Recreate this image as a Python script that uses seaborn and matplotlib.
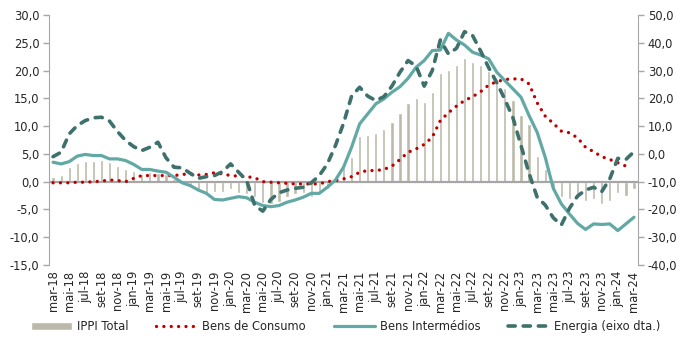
import numpy as np
import pandas as pd
import matplotlib
matplotlib.use("Agg")
import matplotlib.pyplot as plt
from matplotlib.ticker import FuncFormatter, MultipleLocator
import seaborn as sns

# Monthly periods, mar-18 .. mar-24
meses_pt = ["jan", "fev", "mar", "abr", "mai", "jun", "jul", "ago", "set", "out", "nov", "dez"]
periodos = [f"{meses_pt[m % 12]}-{18 + m // 12}" for m in range(2, 2 + 73)]

# Year-on-year change (%), left axis
ippi_total = [
    0.9, 1.2, 2.7, 3.3, 3.7, 3.8, 3.9, 3.6, 2.9, 2.2,
    2.0, 1.4, 1.8, 1.6, 1.4, 0.5, -0.3, -0.8, -1.6, -2.0,
    -1.8, -1.9, -1.4, -2.0, -2.3, -2.8, -3.9, -4.0, -3.7, -2.8,
    -2.3, -2.1, -2.7, -2.2, -1.3, 0.5, 2.8, 4.4, 8.2, 8.4,
    8.8, 9.4, 10.8, 12.4, 14.1, 15.0, 14.4, 16.2, 19.6, 20.1,
    21.0, 22.2, 21.6, 21.0, 20.0, 17.8, 16.8, 14.7, 12.0, 10.3,
    4.7, 2.3, -1.4, -2.8, -3.2, -3.0, -3.5, -3.1, -4.1, -3.4,
    -2.1, -2.5, -1.3,
]
bens_consumo = [
    -0.2, -0.2, -0.2, -0.1, -0.1, 0.0, 0.1, 0.3, 0.2, 0.0,
    0.6, 1.1, 1.1, 1.1, 1.1, 1.1, 1.3, 1.4, 1.2, 1.3,
    1.6, 1.4, 1.1, 1.0, 0.9, 0.7, 0.0, -0.1, -0.2, -0.3,
    -0.4, -0.4, -0.4, -0.4, 0.0, 0.2, 0.5, 0.9, 1.7, 2.0,
    2.0, 2.2, 2.8, 4.0, 5.3, 5.9, 6.7, 8.0, 11.0, 12.4,
    13.6, 14.6, 15.3, 16.2, 17.4, 18.0, 18.4, 18.5, 18.5, 17.6,
    14.2, 11.8, 10.5, 9.1, 8.8, 7.9, 6.2, 5.4, 4.5, 4.0,
    3.4, 2.8, np.nan,
]
bens_intermedios = [
    3.5, 3.2, 3.6, 4.6, 4.9, 4.7, 4.7, 4.1, 4.1, 3.8,
    3.1, 2.2, 2.2, 1.9, 1.7, 0.8, -0.2, -0.7, -1.5, -2.1,
    -3.2, -3.3, -3.0, -2.7, -2.9, -3.7, -4.3, -4.5, -4.3, -3.7,
    -3.3, -2.8, -2.1, -2.1, -1.0, 0.3, 2.6, 6.2, 10.4, 12.2,
    14.0, 14.9, 16.1, 17.1, 18.6, 20.6, 21.8, 23.6, 23.7, 26.7,
    25.5, 24.6, 23.3, 22.8, 22.1, 19.7, 18.2, 16.7, 15.2, 11.9,
    8.9, 4.4, -1.2, -4.0, -5.8, -7.5, -8.6, -7.6, -7.7, -7.6,
    -8.8, -7.6, -6.4,
]
# Energy, right axis
energia = [
    -1.0, 0.6, 7.2, 10.2, 12.0, 13.0, 13.2, 11.8, 8.0, 4.8,
    2.6, 1.2, 2.4, 4.2, -1.4, -4.8, -5.0, -7.0, -8.8, -8.2,
    -7.8, -6.4, -3.6, -6.6, -9.6, -18.6, -20.6, -16.4, -14.0, -13.0,
    -12.4, -12.0, -10.4, -7.8, -3.6, 3.0, 11.0, 20.8, 24.0, 20.8,
    19.2, 20.6, 24.4, 29.4, 33.6, 31.6, 24.4, 30.0, 41.0, 36.0,
    38.0, 44.0, 42.6, 37.0, 31.0, 25.6, 19.6, 13.0, 3.0, -7.0,
    -15.6, -18.4, -23.0, -25.6, -19.6, -15.2, -13.0, -12.0, -13.6, -9.0,
    -1.6, -2.0, 0.8,
]

df = pd.DataFrame({
    "periodo": periodos,
    "pos": np.arange(len(periodos)),
    "IPPI Total": ippi_total,
    "Bens de Consumo": bens_consumo,
    "Bens Intermédios": bens_intermedios,
    "Energia": energia,
})

sns.set_style("white")
plt.rcParams["font.family"] = ["DejaVu Sans"]
plt.rcParams["font.size"] = 8.3

txt = "#262626"
axis_gray = "#a6a6a6"
c_bar = "#bdb9aa"
c_cons = "#c00000"
c_int = "#62a9a5"
c_ene = "#3e706c"
fs = 8.3

fig = plt.figure(figsize=(6.78, 3.37), dpi=100)
ax = fig.add_axes([0.0723, 0.2136, 0.8687, 0.7419])

sns.barplot(data=df, x="pos", y="IPPI Total", color=c_bar, width=0.4,
            saturation=1, native_scale=True, label="IPPI Total", ax=ax, zorder=2)
ax.axhline(0, color=axis_gray, lw=1.6, zorder=3)

sns.lineplot(data=df, x="pos", y="Bens de Consumo", color=c_cons, lw=2.4,
             linestyle=(0, (0.01, 2.2)), dash_capstyle="round",
             label="Bens de Consumo", ax=ax, zorder=4)
sns.lineplot(data=df, x="pos", y="Bens Intermédios", color=c_int, lw=2.3,
             label="Bens Intermédios", ax=ax, zorder=5)

ax2 = ax.twinx()
sns.lineplot(data=df, x="pos", y="Energia", color=c_ene, lw=2.6,
             linestyle=(0, (2.0, 2.2)), dash_capstyle="round",
             label="Energia (eixo dta.)", ax=ax2, zorder=6)

fmt = FuncFormatter(lambda v, p: f"{v:.1f}".replace(".", ","))

ax.set_xlim(-0.5, len(periodos) - 0.5)
ax.set_ylim(-15, 30)
ax.yaxis.set_major_locator(MultipleLocator(5))
ax.yaxis.set_major_formatter(fmt)
ax2.set_ylim(-40, 50)
ax2.yaxis.set_major_locator(MultipleLocator(10))
ax2.yaxis.set_major_formatter(fmt)

ticks = list(range(0, len(periodos), 2))
ax.set_xticks(ticks)
ax.set_xticklabels([periodos[i] for i in ticks], rotation=90, color=txt, fontsize=fs)
ax.tick_params(axis="x", length=0, pad=4)
ax.tick_params(axis="y", length=4, width=1, color=axis_gray, labelcolor=txt, labelsize=fs, pad=3, direction="out")
ax2.tick_params(axis="y", length=4, width=1, color=axis_gray, labelcolor=txt, labelsize=fs, pad=3, direction="out")

for a in (ax, ax2):
    a.set_xlabel("")
    a.set_ylabel("")
    a.grid(False)
    for s in ("top", "bottom"):
        a.spines[s].set_visible(False)
ax.spines["right"].set_visible(False)
ax.spines["left"].set_color(axis_gray)
ax2.spines["left"].set_visible(False)
ax2.spines["right"].set_color(axis_gray)

h1, l1 = ax.get_legend_handles_labels()
h2, l2 = ax2.get_legend_handles_labels()
for a in (ax, ax2):
    if a.get_legend() is not None:
        a.get_legend().remove()
order = ["IPPI Total", "Bens de Consumo", "Bens Intermédios", "Energia (eixo dta.)"]
hmap = dict(zip(l1 + l2, h1 + h2))
fig.legend([hmap[k] for k in order], order, loc="center", bbox_to_anchor=(0.51, 0.03),
           ncol=4, frameon=False, fontsize=fs, handlelength=3.6, columnspacing=2.4,
           handletextpad=0.4, labelcolor=txt)

fig.savefig("out.png", dpi=100)
